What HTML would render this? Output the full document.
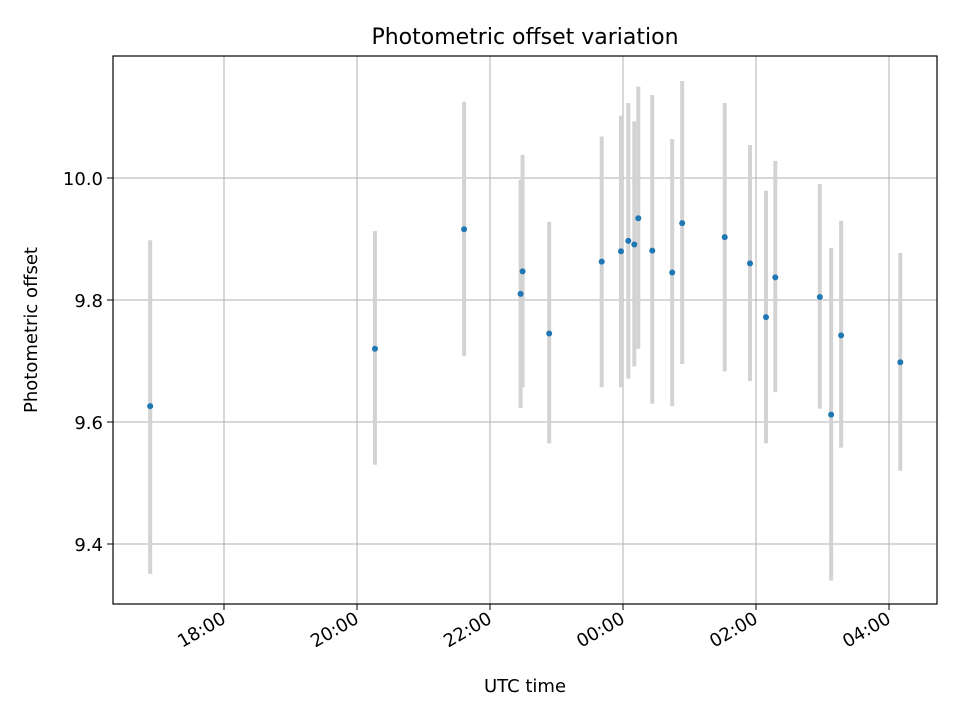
<!DOCTYPE html>
<html><head><meta charset="utf-8"><style>
body{margin:0;background:#fff;}
svg text{font-family:"DejaVu Sans","Liberation Sans",sans-serif;}
</style></head><body>
<svg id="chart" width="960" height="720"></svg>
<script>
const times=[16.89,20.27,21.61,22.46,22.49,22.89,23.68,23.97,24.08,24.17,24.23,24.44,24.74,24.89,25.53,25.91,26.15,26.29,26.96,27.13,27.28,28.17];
const values=[9.626,9.72,9.916,9.81,9.847,9.745,9.863,9.88,9.897,9.891,9.934,9.881,9.845,9.926,9.903,9.86,9.772,9.837,9.805,9.612,9.742,9.698];
const errHigh=[9.898,9.913,10.125,9.997,10.038,9.928,10.068,10.102,10.123,10.093,10.15,10.136,10.064,10.159,10.123,10.054,9.979,10.028,9.99,9.885,9.93,9.877];
const errLow=[9.351,9.53,9.708,9.623,9.657,9.565,9.657,9.657,9.671,9.691,9.72,9.63,9.626,9.695,9.683,9.667,9.565,9.649,9.622,9.34,9.558,9.52];
const yTicks=[9.4,9.6,9.8,10.0];
const xTicks=[18,20,22,24,26,28];
const xTickLabels=["18:00","20:00","22:00","00:00","02:00","04:00"];

const L=113,R=937,T=56,B=604;
const x=t=>224+(t-18)*66.5;
const y=v=>178-(v-10.0)*610;
const svg=document.getElementById('chart');
const NS='http://www.w3.org/2000/svg';
function mk(tag,attrs,parent){const e=document.createElementNS(NS,tag);for(const k in attrs)e.setAttribute(k,attrs[k]);(parent||svg).appendChild(e);return e;}

const grid=mk('g',{});


xTicks.forEach((t,i)=>{
  const gl=mk('line',{x1:x(t),x2:x(t),y1:T,y2:B,stroke:'#b0b0b0','stroke-width':1},grid);
  
  
  const tk=mk('line',{x1:x(t),x2:x(t),y1:B,y2:B+6,stroke:'#000','stroke-width':1});
  
  
  const ax=x(t)+3, ay=B+18;
  const lb=mk('text',{x:ax,y:ay,'font-size':18,'text-anchor':'end',transform:`rotate(-30 ${ax} ${ay})`});
  lb.textContent=xTickLabels[i];
  
  
});
yTicks.forEach(v=>{
  const gl=mk('line',{x1:L,x2:R,y1:y(v),y2:y(v),stroke:'#b0b0b0','stroke-width':1},grid);
  
  
  const tk=mk('line',{x1:L-6,x2:L,y1:y(v),y2:y(v),stroke:'#000','stroke-width':1});
  
  
  const lb=mk('text',{x:L-10,y:y(v)+7,'font-size':18,'text-anchor':'end'});
  lb.textContent=v.toFixed(1);
  
  
});
times.forEach((t,i)=>{
  const eb=mk('line',{x1:x(t),x2:x(t),y1:y(errHigh[i]),y2:y(errLow[i]),stroke:'#d3d3d3','stroke-width':4});
  
  
});
times.forEach((t,i)=>{
  const p=mk('circle',{cx:x(t),cy:y(values[i]),r:3,fill:'#1f77b4'});
  
  
});
const frame=mk('rect',{x:L,y:T,width:R-L,height:B-T,fill:'none',stroke:'#000','stroke-width':1.2});


const title=mk('text',{x:(L+R)/2,y:44,'font-size':22,'text-anchor':'middle'});
title.textContent='Photometric offset variation';


const xl=mk('text',{x:(L+R)/2,y:692,'font-size':18,'text-anchor':'middle'});
xl.textContent='UTC time';


const yl=mk('text',{x:37,y:(T+B)/2,'font-size':18,'text-anchor':'middle',transform:`rotate(-90 37 ${(T+B)/2})`});
yl.textContent='Photometric offset';


</script>
</body></html>
